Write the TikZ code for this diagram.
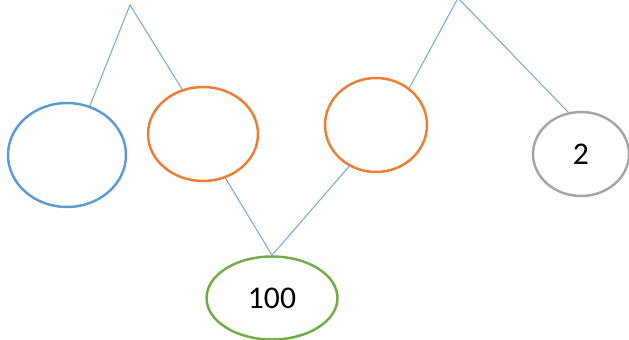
\documentclass[tikz,border=0pt]{standalone}
\usepackage{fontspec}
\setmainfont{Carlito}
\usetikzlibrary{shapes.geometric}
\definecolor{bleu}{RGB}{91,155,213}
\definecolor{bleuclair}{RGB}{120,170,220}
\definecolor{orangeb}{RGB}{237,125,49}
\definecolor{gris}{RGB}{165,165,165}
\definecolor{vert}{RGB}{112,173,71}

\begin{document}
\begin{tikzpicture}[x=0.02cm, y=-0.02cm,
    bulle/.style={ellipse, draw=#1, line width=1.4pt, inner sep=0pt, text=black, font=\fontsize{18}{20}\selectfont},
    lien/.style={bleuclair, line width=0.6pt}]
    \useasboundingbox (0,0) rectangle (629,340);

    % Bulles
    \node[bulle=bleu, minimum width=2.36cm, minimum height=2.08cm] (b1) at (67,155) {};
    \node[bulle=orangeb, minimum width=2.2cm, minimum height=1.88cm] (o1) at (203,134) {};
    \node[bulle=orangeb, minimum width=2.04cm, minimum height=1.88cm] (o2) at (376,125) {};
    \node[bulle=gris, minimum width=1.92cm, minimum height=1.68cm] (g2) at (581,154) {2};
    \node[bulle=vert, minimum width=2.62cm, minimum height=1.66cm] (v100) at (272,298) {100};

    % Sommets
    \coordinate (s1) at (130,5);
    \coordinate (s2) at (458,-2);

    % Liens
    \draw[lien] (b1.65) -- (s1) -- (o1.115);
    \draw[lien] (o2.48) -- (s2) -- (g2.107);
    \draw[lien] (o1.-63) -- (v100.north) -- (o2.-123);
\end{tikzpicture}
\end{document}
